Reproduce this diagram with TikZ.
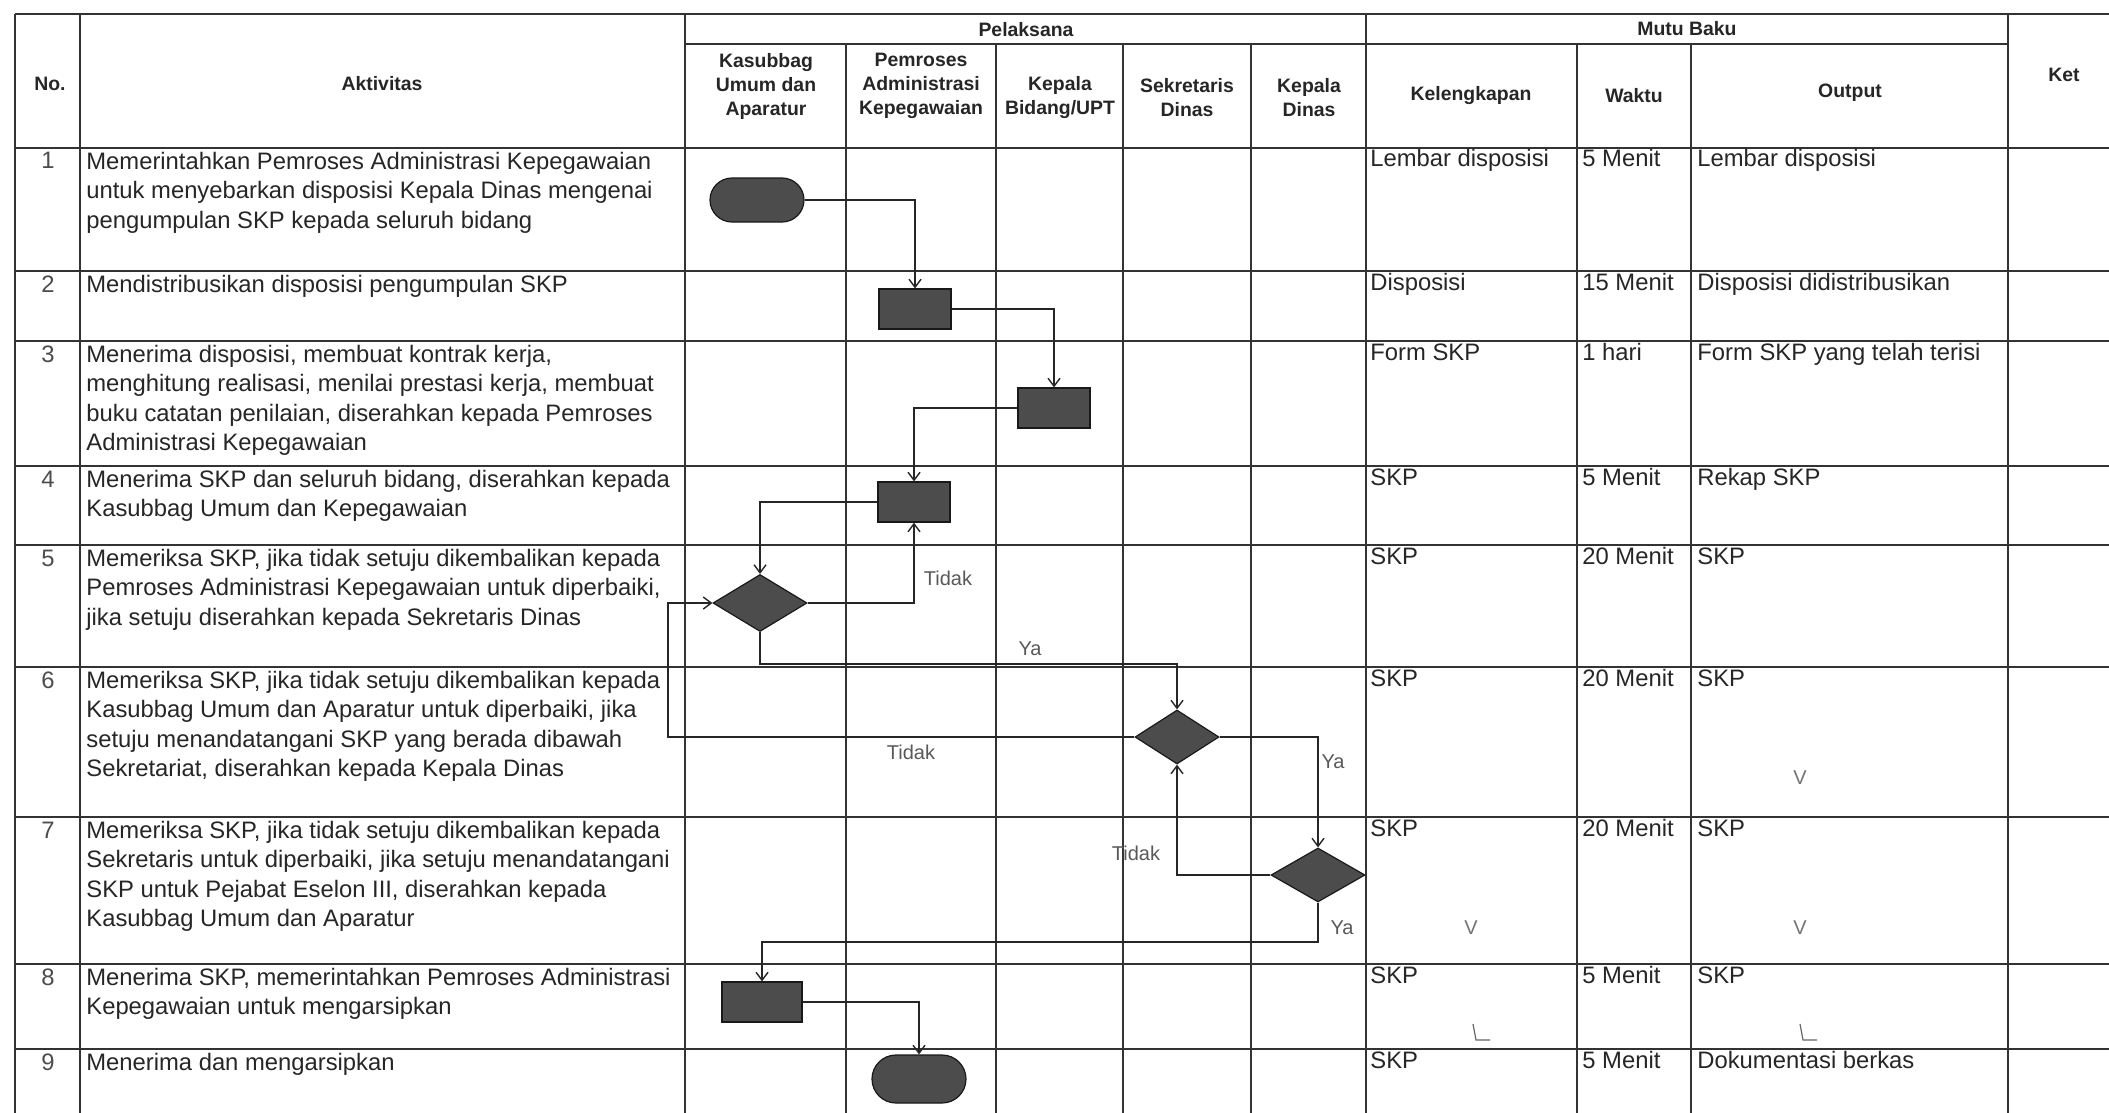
\documentclass[tikz,border=0pt]{standalone}
\usepackage{fontspec}
\setmainfont{Liberation Sans}
\usetikzlibrary{shapes.geometric,arrows.meta}
\newcommand\fst{\rule{0pt}{9pt}}
\begin{document}
\begin{tikzpicture}[x=0.5pt,y=-0.5pt,
  grid/.style={draw=black!80, line width=0.9pt},
  conn/.style={draw=black!85, line width=0.7pt, -{Straight Barb[length=4pt,width=6pt]}},
  act/.style={rectangle, fill=black!70, draw=black!90, line width=0.6pt, inner sep=0pt, minimum width=36pt, minimum height=20pt},
  term/.style={rectangle, rounded corners=11pt, fill=black!70, draw=black!90, line width=0.6pt, inner sep=0pt, minimum width=47pt, minimum height=22pt},
  dec/.style={diamond, fill=black!70, draw=black!90, line width=0.6pt, inner sep=0pt},
  hdr/.style={font=\bfseries\fontsize{9.7}{12}\selectfont, align=center, text=black!85, inner sep=0pt},
  body/.style={font=\fontsize{11.9}{14.7}\selectfont, align=left, anchor=north west, inner sep=0pt, text=black!85},
  num/.style={font=\fontsize{11.9}{14.7}\selectfont, anchor=base, inner sep=0pt, text=black!70},
  cell/.style={font=\fontsize{11.9}{14.7}\selectfont, anchor=base west, inner sep=0pt, text=black!85},
  lbl/.style={font=\fontsize{10}{12}\selectfont, text=black!65, inner sep=0pt},
  chk/.style={font=\fontsize{10}{12}\selectfont, text=black!55, inner sep=0pt},
  tickmark/.style={draw=black!60, line width=0.6pt}]
\useasboundingbox[fill=white] (0,0) rectangle (2109,1113);

% ---- grid ----
\foreach \yy in {14,148,271,341,466,545,667,817,964,1049}
  \draw[grid] (15,\yy) -- (2109,\yy);
\draw[grid] (685,44) -- (2008,44);
\foreach \xx in {15,80,685,1366,2008}
  \draw[grid] (\xx,14) -- (\xx,1113);
\foreach \xx in {846,996,1123,1251,1577,1691}
  \draw[grid] (\xx,44) -- (\xx,1113);

% ---- headers ----
\node[hdr] (hNo) at (50,84) {No.};
\node[hdr] (hAkt) at (382,84) {Aktivitas};
\node[hdr] (hPel) at (1026,30) {Pelaksana};
\node[hdr] (hKas) at (766,86) {Kasubbag\\Umum dan\\Aparatur};
\node[hdr] (hPem) at (921,86) {Pemroses\\Administrasi\\Kepegawaian};
\node[hdr] (hKbd) at (1060,98) {Kepala\\Bidang/UPT};
\node[hdr] (hSek) at (1187,98) {Sekretaris\\Dinas};
\node[hdr] (hKdn) at (1309,98) {Kepala\\Dinas};
\node[hdr] (hMutu) at (1687,29) {Mutu Baku};
\node[hdr] (hKel) at (1471,96) {Kelengkapan};
\node[hdr] (hWak) at (1634,96) {Waktu};
\node[hdr] (hOut) at (1850,93) {Output};
\node[hdr] (hKet) at (2064,75) {Ket};

% ---- numbers ----
\node[num] (n1) at (48,169) {1};
\node[num] (n2) at (48,292) {2};
\node[num] (n3) at (48,362) {3};
\node[num] (n4) at (48,487) {4};
\node[num] (n5) at (48,566) {5};
\node[num] (n6) at (48,688) {6};
\node[num] (n7) at (48,838) {7};
\node[num] (n8) at (48,985) {8};
\node[num] (n9) at (48,1070) {9};

% ---- activities ----
\node[body] (a1) at (86,151) {\fst Memerintahkan Pemroses Administrasi Kepegawaian\\untuk menyebarkan disposisi Kepala Dinas mengenai\\pengumpulan SKP kepada seluruh bidang};
\node[body] (a2) at (86,274) {\fst Mendistribusikan disposisi pengumpulan SKP};
\node[body] (a3) at (86,344) {\fst Menerima disposisi, membuat kontrak kerja,\\menghitung realisasi, menilai prestasi kerja, membuat\\buku catatan penilaian, diserahkan kepada Pemroses\\Administrasi Kepegawaian};
\node[body] (a4) at (86,469) {\fst Menerima SKP dan seluruh bidang, diserahkan kepada\\Kasubbag Umum dan Kepegawaian};
\node[body] (a5) at (86,548) {\fst Memeriksa SKP, jika tidak setuju dikembalikan kepada\\Pemroses Administrasi Kepegawaian untuk diperbaiki,\\jika setuju diserahkan kepada Sekretaris Dinas};
\node[body] (a6) at (86,670) {\fst Memeriksa SKP, jika tidak setuju dikembalikan kepada\\Kasubbag Umum dan Aparatur untuk diperbaiki, jika\\setuju menandatangani SKP yang berada dibawah\\Sekretariat, diserahkan kepada Kepala Dinas};
\node[body] (a7) at (86,820) {\fst Memeriksa SKP, jika tidak setuju dikembalikan kepada\\Sekretaris untuk diperbaiki, jika setuju menandatangani\\SKP untuk Pejabat Eselon III, diserahkan kepada\\Kasubbag Umum dan Aparatur};
\node[body] (a8) at (86,967) {\fst Menerima SKP, memerintahkan Pemroses Administrasi\\Kepegawaian untuk mengarsipkan};
\node[body] (a9) at (86,1052) {\fst Menerima dan mengarsipkan};

% ---- mutu baku ----
\node[cell] (k1) at (1370,167) {Lembar disposisi};
\node[cell] (w1) at (1582,167) {5 Menit};
\node[cell] (o1) at (1697,167) {Lembar disposisi};
\node[cell] (k2) at (1370,290) {Disposisi};
\node[cell] (w2) at (1582,290) {15 Menit};
\node[cell] (o2) at (1697,290) {Disposisi didistribusikan};
\node[cell] (k3) at (1370,360) {Form SKP};
\node[cell] (w3) at (1582,360) {1 hari};
\node[cell] (o3) at (1697,360) {Form SKP yang telah terisi};
\node[cell] (k4) at (1370,485) {SKP};
\node[cell] (w4) at (1582,485) {5 Menit};
\node[cell] (o4) at (1697,485) {Rekap SKP};
\node[cell] (k5) at (1370,564) {SKP};
\node[cell] (w5) at (1582,564) {20 Menit};
\node[cell] (o5) at (1697,564) {SKP};
\node[cell] (k6) at (1370,686) {SKP};
\node[cell] (w6) at (1582,686) {20 Menit};
\node[cell] (o6) at (1697,686) {SKP};
\node[cell] (k7) at (1370,836) {SKP};
\node[cell] (w7) at (1582,836) {20 Menit};
\node[cell] (o7) at (1697,836) {SKP};
\node[cell] (k8) at (1370,983) {SKP};
\node[cell] (w8) at (1582,983) {5 Menit};
\node[cell] (o8) at (1697,983) {SKP};
\node[cell] (k9) at (1370,1068) {SKP};
\node[cell] (w9) at (1582,1068) {5 Menit};
\node[cell] (o9) at (1697,1068) {Dokumentasi berkas};

% ---- check marks ----
\node[chk] (v1) at (1800,778) {V};
\node[chk] (v2) at (1471,928) {V};
\node[chk] (v3) at (1800,928) {V};
\draw[tickmark] (1473,1024) -- (1476,1040) -- (1490,1040);
\draw[tickmark] (1800,1024) -- (1803,1040) -- (1817,1040);

% ---- flow shapes ----
\node[term] (start) at (757,200) {};
\node[act] (b2) at (915,309) {};
\node[act] (b3) at (1054,408) {};
\node[act] (b4) at (914,502) {};
\node[dec, minimum width=47pt, minimum height=28.5pt] (d5) at (760,603) {};
\node[dec, minimum width=42pt, minimum height=27pt] (d6) at (1177,737) {};
\node[dec, minimum width=47pt, minimum height=27pt] (d7) at (1318,875) {};
\node[act, minimum width=40pt] (b8) at (762,1002) {};
\node[term, minimum height=24pt, rounded corners=12pt] (endt) at (919,1079) {};

\coordinate (ye5) at (0,664);
\coordinate (lx) at (668,0);
\coordinate (ya7) at (0,942);

% ---- connectors ----
\draw[conn] (start.east) -| (b2.north);
\draw[conn] (b2.east) -| (b3.north);
\draw[conn] (b3.west) -| (b4.north);
\draw[conn] (b4.west) -| (d5.north);
\draw[conn] (d5.east) -| (b4.south);
\draw[conn] (d5.south) |- (ye5 -| d6.north) -- (d6.north);
\draw[conn] (d6.west) -- (d6.west -| lx) |- (d5.west);
\draw[conn] (d6.east) -| (d7.north);
\draw[conn] (d7.west) -| (d6.south);
\draw[conn] (d7.south) |- (ya7 -| b8.north) -- (b8.north);
\draw[conn] (b8.east) -| (endt.north);

% ---- labels ----
\node[lbl] (t5) at (948,578) {Tidak};
\node[lbl] (y5) at (1030,649) {Ya};
\node[lbl] (t6) at (911,752) {Tidak};
\node[lbl] (y6) at (1333,762) {Ya};
\node[lbl] (t7) at (1136,853) {Tidak};
\node[lbl] (y7) at (1342,928) {Ya};
\end{tikzpicture}
\end{document}
